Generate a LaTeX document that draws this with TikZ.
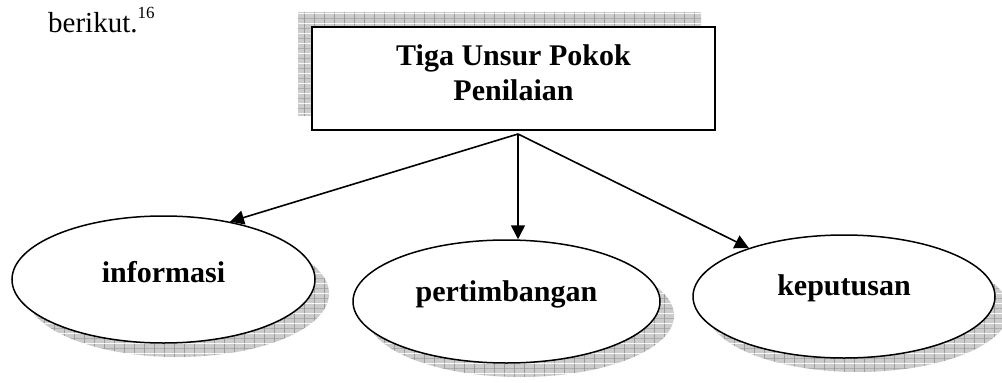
\documentclass[tikz,border=0pt]{standalone}
\usepackage{fontspec}
\setmainfont{Liberation Serif}
\usetikzlibrary{shapes.geometric,arrows.meta,shadows,patterns}
\definecolor{xshade}{RGB}{204,204,204}
\definecolor{xgrid}{RGB}{155,155,155}
\pgfdeclarepatterninherentlycolored{xgridpat}{\pgfpointorigin}{\pgfpoint{10pt}{10pt}}{\pgfpoint{10pt}{10pt}}{%
  \pgfsetfillcolor{xshade}%
  \pgfpathrectangle{\pgfpointorigin}{\pgfpoint{10pt}{10pt}}\pgfusepath{fill}%
  \pgfsetstrokecolor{xgrid}\pgfsetlinewidth{0.7pt}%
  \pgfpathmoveto{\pgfpoint{5pt}{0pt}}\pgfpathlineto{\pgfpoint{5pt}{10pt}}%
  \pgfpathmoveto{\pgfpoint{0pt}{5pt}}\pgfpathlineto{\pgfpoint{10pt}{5pt}}%
  \pgfusepath{stroke}}
\tikzset{
  topbox/.style={draw, rectangle, line width=2pt, fill=white, minimum width=403pt, minimum height=103pt,
    text height=25pt, text depth=52pt, font=\bfseries\fontsize{30}{35}\selectfont,
    drop shadow={shadow xshift=-14pt, shadow yshift=15pt, opacity=1, pattern=xgridpat}},
  unsur/.style={draw, ellipse, line width=1.5pt, fill=white,
    font=\bfseries\fontsize{30}{35}\selectfont,
    drop shadow={shadow xshift=14pt, shadow yshift=-14pt, opacity=1, pattern=xgridpat}},
  link/.style={line width=1.6pt, -{Triangle[length=14pt,width=14pt]}}
}
\begin{document}
\begin{tikzpicture}[x=1pt, y=-1pt]
\useasboundingbox (0,0) rectangle (1002,383);
\node[anchor=base west, inner sep=0pt] at (48,32) (lead) {\fontsize{29}{35}\selectfont berikut.\raisebox{14pt}{\fontsize{17}{17}\selectfont 16}};
\node[topbox] at (513.5,78.5) (pokok) {\begin{tabular}[t]{@{}c@{}}Tiga Unsur Pokok\\Penilaian\end{tabular}};
\node[unsur, minimum width=303pt, minimum height=127pt, text height=22.5pt, text depth=17.5pt] at (163.5,279.5) (info) {informasi};
\node[unsur, minimum width=307pt, minimum height=123pt, text height=20pt, text depth=20pt] at (506.5,301.5) (timbang) {pertimbangan};
\node[unsur, minimum width=302pt, minimum height=123pt, text height=18.5pt, text depth=21.5pt] at (844,296.5) (putus) {keputusan};
\coordinate (apex) at (518,134);
\draw[link] (apex) -- (info.41);
\draw[link] (apex) -- (apex |- timbang.north);
\draw[link] (apex) -- (putus.153);
\end{tikzpicture}
\end{document}
